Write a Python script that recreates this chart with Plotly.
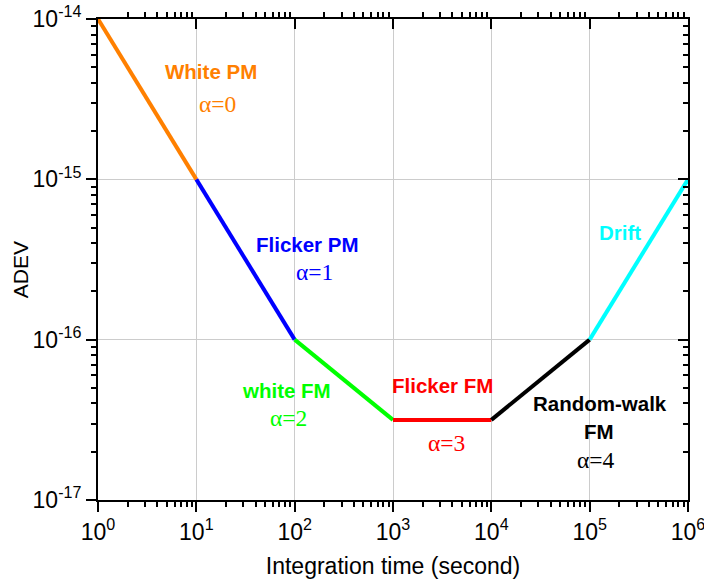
import plotly.graph_objects as go

# Segment data (tau in seconds, ADEV)
seg_names = ["White PM", "Flicker PM", "white FM", "Flicker FM", "Random-walk FM", "Drift"]
seg_x = [[1, 10], [10, 100], [100, 1000], [1000, 10000], [10000, 100000], [100000, 1000000]]
seg_y = [[1e-14, 1e-15], [1e-15, 1e-16], [1e-16, 3.16e-17], [3.16e-17, 3.16e-17],
         [3.16e-17, 1e-16], [1e-16, 1e-15]]
seg_colors = ["#FF8000", "#0000FF", "#00FF00", "#FF0000", "#000000", "#00FFFF"]

x_tickvals = [1, 10, 100, 1000, 10000, 100000, 1000000]
x_ticktext = ["10<sup>0</sup>", "10<sup>1</sup>", "10<sup>2</sup>", "10<sup>3</sup>",
              "10<sup>4</sup>", "10<sup>5</sup>", "10<sup>6</sup>"]
y_tickvals = [1e-17, 1e-16, 1e-15, 1e-14]
y_ticktext = ["10<sup>-17</sup>", "10<sup>-16</sup>", "10<sup>-15</sup>", "10<sup>-14</sup>"]

# Labels: (text, log10 x, log10 y, color, kind)
labels = [
    ("White PM", 1.152, -14.33, "#FF8000", "b"),
    ("α=0", 1.216, -14.53, "#FF8000", "a"),
    ("Flicker PM", 2.133, -15.404, "#0000FF", "b"),
    ("α=1", 2.204, -15.578, "#0000FF", "a"),
    ("white FM", 1.917, -16.314, "#00FF00", "b"),
    ("α=2", 1.94, -16.489, "#00FF00", "a"),
    ("Flicker FM", 3.507, -16.283, "#FF0000", "b"),
    ("α=3", 3.547, -16.645, "#FF0000", "a"),
    ("Random-walk", 5.104, -16.396, "#000000", "b"),
    ("FM", 5.094, -16.57, "#000000", "b"),
    ("α=4", 5.064, -16.751, "#000000", "a"),
    ("Drift", 5.307, -15.329, "#00FFFF", "b"),
]

minor_x = [m * 10 ** e for e in range(0, 6) for m in range(2, 10)]
minor_y = [m * 10 ** e for e in range(-17, -14) for m in range(2, 10)]

fig = go.Figure()
for name, xs, ys, c in zip(seg_names, seg_x, seg_y, seg_colors):
    fig.add_trace(go.Scatter(x=xs, y=ys, mode="lines", name=name,
                             line=dict(color=c, width=4), showlegend=False))
# helper trace to bring top/right axes to life
fig.add_trace(go.Scatter(x=seg_x[0], y=seg_y[0], xaxis="x2", yaxis="y2", mode="lines",
                         line=dict(width=0), opacity=0, showlegend=False, hoverinfo="skip"))

FONT = "Arial, Liberation Sans"
tickfont = dict(family=FONT, size=23, color="black")
fig.update_layout(
    width=704, height=582,
    margin=dict(l=98, r=16, t=19, b=82),
    paper_bgcolor="white", plot_bgcolor="white",
    font=dict(family=FONT, color="black"),
    xaxis=dict(type="log", range=[0, 6], tickmode="array", tickvals=x_tickvals,
               ticktext=x_ticktext, tickfont=tickfont, ticks="outside", ticklen=10,
               tickwidth=2, tickcolor="black", showline=True, linecolor="black", linewidth=2,
               showgrid=True, gridcolor="#CCCCCC", gridwidth=1, zeroline=False,
               automargin=False, ticklabeloverflow="allow",
               minor=dict(tickmode="array", tickvals=minor_x, ticks="outside", ticklen=5,
                          tickwidth=2, tickcolor="black", showgrid=False),
               title=dict(text="Integration time (second)",
                          font=dict(family=FONT, size=23), standoff=14)),
    yaxis=dict(type="log", range=[-17, -14], tickmode="array", tickvals=y_tickvals,
               ticktext=y_ticktext, tickfont=tickfont, ticks="outside", ticklen=10,
               tickwidth=2, tickcolor="black", showline=True, linecolor="black", linewidth=2,
               showgrid=True, gridcolor="#CCCCCC", gridwidth=1, zeroline=False,
               automargin=False, ticklabeloverflow="allow",
               minor=dict(tickmode="array", tickvals=minor_y, ticks="outside", ticklen=5,
                          tickwidth=2, tickcolor="black", showgrid=False)),
    xaxis2=dict(type="log", range=[0, 6], overlaying="x", side="top", anchor="y",
                tickmode="array", tickvals=x_tickvals, showticklabels=False,
                ticks="inside", ticklen=10, tickwidth=2, tickcolor="black", automargin=False,
                showline=True, linecolor="black", linewidth=2, showgrid=False, zeroline=False,
                minor=dict(tickmode="array", tickvals=minor_x, ticks="outside", ticklen=5,
                           tickwidth=2, tickcolor="black", showgrid=False)),
    yaxis2=dict(type="log", range=[-17, -14], overlaying="y", side="right", anchor="x",
                tickmode="array", tickvals=y_tickvals, showticklabels=False,
                ticks="inside", ticklen=10, tickwidth=2, tickcolor="black", automargin=False,
                showline=True, linecolor="black", linewidth=2, showgrid=False, zeroline=False,
                minor=dict(tickmode="array", tickvals=minor_y, ticks="inside", ticklen=5,
                           tickwidth=2, tickcolor="black", showgrid=False)),
)

# y-axis title placed as rotated annotation (slightly below the plot centre, as in the original)
fig.add_annotation(text="ADEV", xref="paper", yref="paper", x=-0.132, y=0.478,
                   textangle=-90, showarrow=False, xanchor="center", yanchor="middle",
                   font=dict(family=FONT, size=21, color="black"))

for text, lx, ly, c, kind in labels:
    if kind == "b":
        f = dict(family=FONT, size=20.5, color=c)
        t = "<b>" + text + "</b>"
    else:
        f = dict(family="Times New Roman, Liberation Serif", size=23.5, color=c)
        t = text
    fig.add_annotation(x=lx, y=ly, xref="x", yref="y", text=t, showarrow=False,
                       font=f, xanchor="center", yanchor="middle")

fig.write_html("out.html")
